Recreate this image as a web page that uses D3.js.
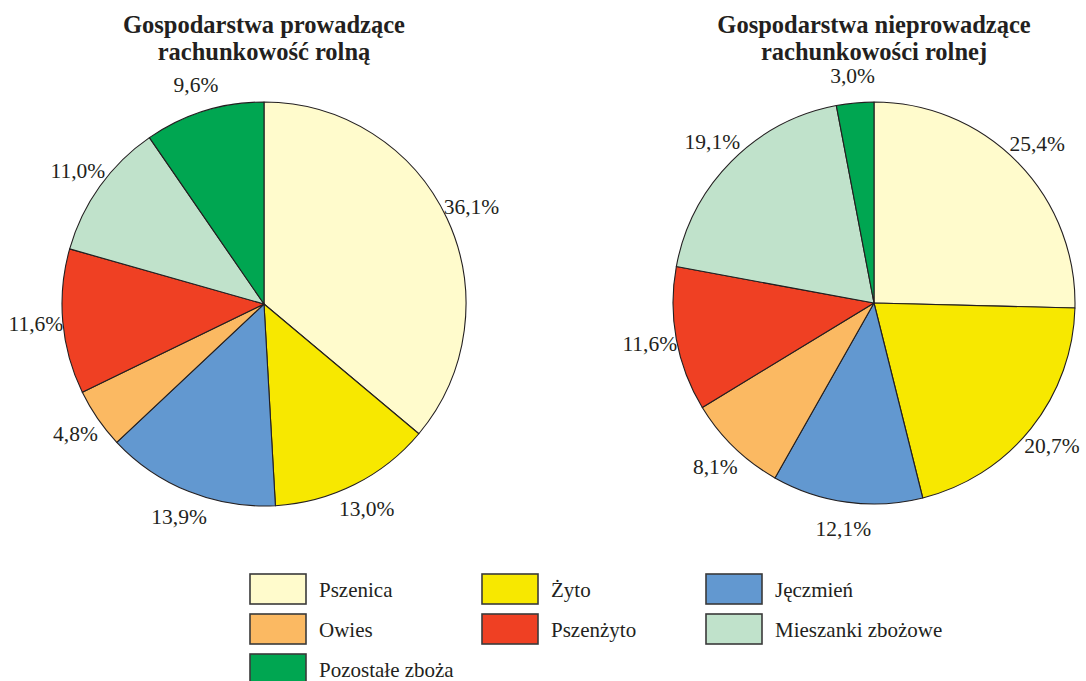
<!DOCTYPE html>
<html>
<head>
<meta charset="utf-8">
<script src="https://cdn.jsdelivr.net/npm/d3@7"></script>
<style>
  html, body { margin: 0; padding: 0; background: #fff; }
  svg { display: block; }
  svg text { font-family: "Liberation Serif", "DejaVu Serif", serif; }
</style>
</head>
<body>
<div id="chart"></div>
<script>
// Struktura powierzchni zasiewów zbóż, dwa wykresy kołowe
var categories = ['Pszenica', 'Żyto', 'Jęczmień', 'Owies', 'Pszenżyto', 'Mieszanki zbożowe', 'Pozostałe zboża'];
var colors     = ['#fffbcc', '#f7e800', '#6298d0', '#fbb962', '#ef4023', '#c0e2cb', '#00a651'];
var valuesFADN = [36.1, 13.0, 13.9, 4.8, 11.6, 11.0, 9.6];
var valuesOther = [25.4, 20.7, 12.1, 8.1, 11.6, 19.1, 3.0];
var titles = [
    ['Gospodarstwa prowadzące', 'rachunkowość rolną'],
    ['Gospodarstwa nieprowadzące', 'rachunkowości rolnej']
];
// legenda: kolejność wierszami, 3 kolumny
var legendOrder = ['Pszenica', 'Żyto', 'Jęczmień', 'Owies', 'Pszenżyto', 'Mieszanki zbożowe', 'Pozostałe zboża'];

var W = 1086, H = 681;
var TXT = '#231f20';

var svg = d3.select('#chart').append('svg')
    .attr('width', W).attr('height', H)
    .attr('viewBox', '0 0 ' + W + ' ' + H);

var color = d3.scaleOrdinal().domain(categories).range(colors);
var fmt = function (v) { return d3.format('.1f')(v).replace('.', ',') + '%'; };

function drawPie(values, title, cx, cy, r) {
    var data = categories.map(function (c, i) { return { name: c, value: values[i] }; });
    var pie = d3.pie().sort(null).value(function (d) { return d.value; });
    var arc = d3.arc().innerRadius(0).outerRadius(r);
    var labelArc = d3.arc().innerRadius(r + 27).outerRadius(r + 27);

    var g = svg.append('g').attr('transform', 'translate(' + cx + ',' + cy + ')');
    var arcs = pie(data);

    g.selectAll('path.slice').data(arcs).join('path')
        .attr('class', 'slice')
        .attr('d', arc)
        .attr('fill', function (d) { return color(d.data.name); })
        .attr('stroke', TXT)
        .attr('stroke-width', 1.1)
        .attr('stroke-linejoin', 'round');

    g.selectAll('text.lbl').data(arcs).join('text')
        .attr('class', 'lbl')
        .attr('x', function (d) { return labelArc.centroid(d)[0]; })
        .attr('y', function (d) { return labelArc.centroid(d)[1]; })
        .attr('text-anchor', 'middle')
        .attr('dominant-baseline', 'central')
        .attr('font-size', 21.5)
        .attr('fill', TXT)
        .text(function (d) { return fmt(d.data.value); });

    var t = svg.append('text')
        .attr('text-anchor', 'middle')
        .attr('font-weight', 'bold')
        .attr('font-size', 24.5)
        .attr('fill', TXT);
    title.forEach(function (line, i) {
        t.append('tspan').attr('x', cx).attr('y', 33 + i * 27).text(line);
    });
}

drawPie(valuesFADN, titles[0], 264, 304, 202);
drawPie(valuesOther, titles[1], 874, 303, 201);

// Legenda
var colX = d3.scaleOrdinal().domain([0, 1, 2]).range([250, 482, 706]);
var rowY = d3.scaleLinear().domain([0, 1]).range([574, 614]);

var leg = svg.append('g').selectAll('g').data(legendOrder).join('g')
    .attr('transform', function (d, i) {
        return 'translate(' + colX(i % 3) + ',' + rowY(Math.floor(i / 3)) + ')';
    });

leg.append('rect')
    .attr('width', 56).attr('height', 30)
    .attr('fill', function (d) { return color(d); })
    .attr('stroke', '#3a3a3a')
    .attr('stroke-width', 1.6);

leg.append('text')
    .attr('x', 69).attr('y', 23)
    .attr('font-size', 21)
    .attr('fill', TXT)
    .text(function (d) { return d; });
</script>
</body>
</html>
